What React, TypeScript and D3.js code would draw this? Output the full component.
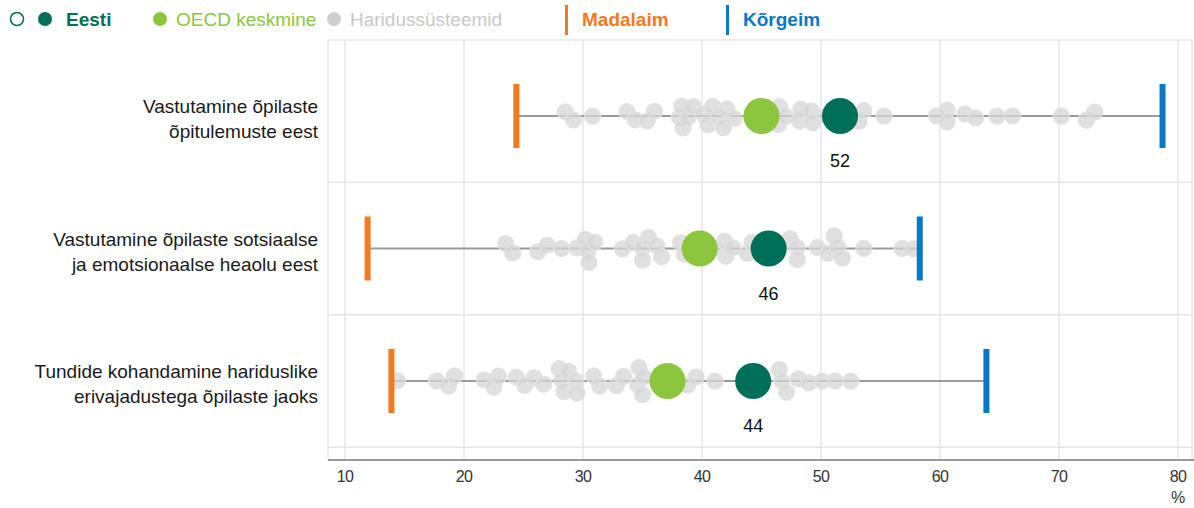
import React, { useMemo } from "react";
import * as d3 from "d3";

// rows of the chart
const categories = [
  ["Vastutamine õpilaste", "õpitulemuste eest"],
  ["Vastutamine õpilaste sotsiaalse", "ja emotsionaalse heaolu eest"],
  ["Tundide kohandamine hariduslike", "erivajadustega õpilaste jaoks"],
];

const eesti = [51.6, 45.6, 44.3];
const oecd = [45.0, 39.8, 37.1];
const minimum = [24.4, 11.9, 13.9];
const maximum = [78.7, 58.3, 63.9];

// education systems (grey dots)
const systemsRow1 = [
  28.5, 29.2, 30.8, 33.7, 34.4, 35.4, 36.0, 38.1, 38.4, 38.3, 38.8, 39.3, 40.1, 40.5, 40.9,
  41.4, 41.8, 42.1, 42.7, 44.5, 45.5, 46.4, 46.5, 47.0, 48.2, 48.3, 49.2, 49.3, 50.5, 52.0,
  53.2, 53.6, 55.3, 59.7, 60.6, 60.6, 62.1, 63.0, 64.8, 66.1, 70.2, 72.3, 73.0,
];
const systemsRow2 = [
  23.5, 24.1, 26.2, 27.0, 28.2, 29.5, 30.2, 30.4, 30.5, 31.0, 33.3, 34.2, 35.0, 35.0, 35.5,
  36.2, 36.6, 38.2, 38.5, 39.5, 40.9, 42.0, 41.9, 42.6, 43.8, 44.2, 45.0, 46.5, 47.4, 48.0,
  48.0, 49.7, 50.6, 51.1, 51.4, 51.8, 53.6, 56.8, 57.8,
];
const systemsRow3 = [
  14.4, 17.7, 18.7, 19.2, 21.7, 22.5, 22.9, 24.4, 25.1, 25.9, 26.7, 28.0, 28.2, 28.4, 28.8,
  29.4, 29.5, 30.9, 31.4, 32.8, 33.4, 34.6, 34.7, 35.1, 35.0, 36.5, 37.8, 38.8, 39.5, 41.1,
  43.6, 44.0, 45.0, 46.5, 46.7, 47.1, 48.1, 49.0, 50.1, 51.2, 52.5,
];
const systems = [systemsRow1, systemsRow2, systemsRow3];

const xTicks = [10, 20, 30, 40, 50, 60, 70, 80];

const W = 1194;
const H = 508;
const FONT = "'Liberation Sans', Arial, sans-serif";
const GREEN = "#006f59";
const LIME = "#8cc63f";
const GREY = "#d6d6d6";
const ORANGE = "#f47a20";
const BLUE = "#0a78c3";

const plotLeft = 328;
const plotRight = 1192;
const plotTop = 40;
const axisY = 460;

function swarm(values: number[], x: d3.ScaleLinear<number, number>) {
  const nodes: any[] = values.map((v, i) => ({ tx: x(v), x: x(v), y: (((i * 37) % 11) - 5) * 1.6 }));
  const sim = d3
    .forceSimulation(nodes)
    .force("x", d3.forceX((d: any) => d.tx).strength(0.9))
    .force("y", d3.forceY(0).strength(0.05))
    .force("c", d3.forceCollide(6))
    .stop();
  for (let i = 0; i < 220; i++) sim.tick();
  return nodes.map((n) => ({ x: n.tx, y: Math.max(-14, Math.min(14, n.y)) }));
}

export default function App() {
  const x = d3.scaleLinear().domain([10, 80]).range([345, 1178]);
  const y = d3.scalePoint<number>().domain([0, 1, 2]).range([116, 381]);
  const step = y.step();

  const swarms = useMemo(() => systems.map((s) => swarm(s, x)), []);

  const separators = [0, 1, 2].map((i) => (y(i) as number) + step / 2);

  return (
    <div style={{ position: "absolute", left: 0, top: 0 }}>
      <svg width={W} height={H} style={{ display: "block", fontFamily: FONT }}>
        <rect width={W} height={H} fill="#fff" />

        {/* legend */}
        <g transform="translate(0,19)">
          <circle cx={17} cy={0} r={6.5} fill="#fff" stroke={GREEN} strokeWidth={1.5} />
          <circle cx={45} cy={0} r={7} fill={GREEN} />
          <text x={66} y={7} fontSize={19} fontWeight="bold" fill={GREEN}>Eesti</text>
          <circle cx={160} cy={0} r={7} fill={LIME} />
          <text x={176} y={7} fontSize={19} fill={LIME}>OECD keskmine</text>
          <circle cx={334} cy={0} r={7} fill="#cfcfcf" />
          <text x={350} y={7} fontSize={19} fill="#c8c8c8">Haridussüsteemid</text>
          <rect x={565} y={-14} width={3} height={30} fill={ORANGE} />
          <text x={582} y={7} fontSize={19} fontWeight="bold" fill={ORANGE}>Madalaim</text>
          <rect x={726} y={-14} width={3} height={30} fill={BLUE} />
          <text x={743} y={7} fontSize={19} fontWeight="bold" fill={BLUE}>Kõrgeim</text>
        </g>

        {/* grid */}
        <line x1={plotLeft} x2={plotRight} y1={plotTop} y2={plotTop} stroke="#e6e6e6" strokeWidth={1.5} />
        {separators.map((s, i) => (
          <line key={i} x1={plotLeft} x2={plotRight} y1={s} y2={s} stroke="#e6e6e6" strokeWidth={1.5} />
        ))}
        <line x1={plotLeft} x2={plotLeft} y1={plotTop} y2={axisY} stroke="#e6e6e6" strokeWidth={1.5} />
        <line x1={plotRight} x2={plotRight} y1={plotTop} y2={axisY} stroke="#e6e6e6" strokeWidth={1.5} />
        {xTicks.map((t) => (
          <line key={t} x1={x(t)} x2={x(t)} y1={plotTop} y2={axisY} stroke="#e6e6e6" strokeWidth={1.5} />
        ))}

        {/* axis */}
        <line x1={plotLeft} x2={plotRight + 2} y1={axisY} y2={axisY} stroke="#9a9a9a" strokeWidth={2} />
        {xTicks.map((t) => (
          <text key={t} x={x(t)} y={482} fontSize={16} textAnchor="middle" fill="#333" letterSpacing={-0.6}>
            {t}
          </text>
        ))}
        <text x={x(80)} y={503} fontSize={16} textAnchor="middle" fill="#333">%</text>

        {/* rows */}
        {categories.map((cat, i) => {
          const cy = y(i) as number;
          return (
            <g key={i}>
              {cat.map((line, j) => (
                <text key={j} x={318} y={cy - 3 + j * 25} fontSize={19} textAnchor="end" fill="#1a1a1a">
                  {line}
                </text>
              ))}
              <line x1={x(minimum[i])} x2={x(maximum[i])} y1={cy} y2={cy} stroke="#9a9a9a" strokeWidth={2} />
              {swarms[i].map((d, k) => (
                <circle
                  key={k}
                  cx={d.x}
                  cy={cy + d.y}
                  r={8}
                  fill={GREY}
                  fillOpacity={0.75}
                  stroke="#e2e2e2"
                  strokeWidth={1.2}
                />
              ))}
              <rect x={x(minimum[i]) - 3} y={cy - 32} width={6} height={64} fill={ORANGE} />
              <rect x={x(maximum[i]) - 3} y={cy - 32} width={6} height={64} fill={BLUE} />
              <circle cx={x(oecd[i])} cy={cy} r={18} fill={LIME} />
              <circle cx={x(eesti[i])} cy={cy} r={18} fill={GREEN} />
              <text x={x(eesti[i])} y={cy + 51} fontSize={18} textAnchor="middle" fill="#111">
                {d3.format(".0f")(eesti[i])}
              </text>
            </g>
          );
        })}
      </svg>
    </div>
  );
}
